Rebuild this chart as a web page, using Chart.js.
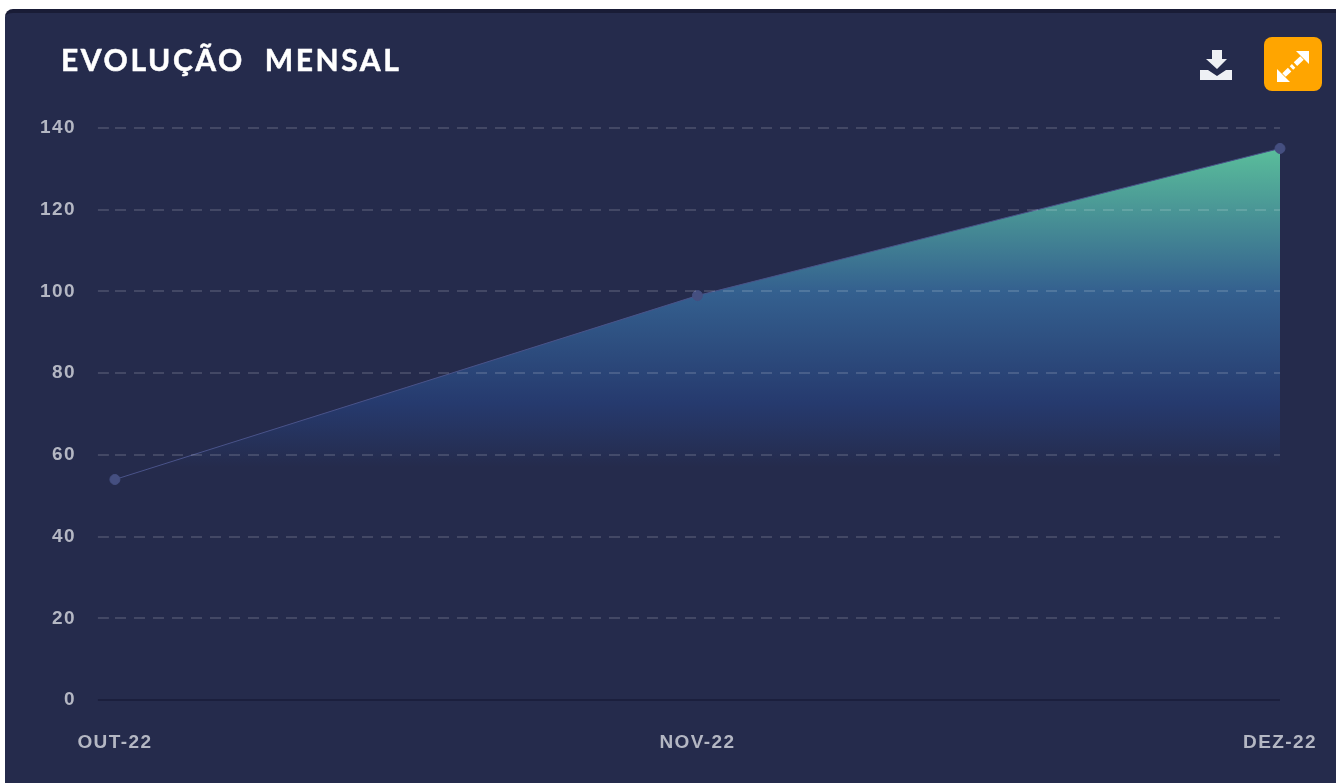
<!DOCTYPE html>
<html lang="pt-BR">
<head>
<meta charset="utf-8">
<title>Evolução Mensal</title>
<script src="https://cdn.jsdelivr.net/npm/chart.js@4/dist/chart.umd.min.js"></script>
<style>
    html, body { margin: 0; padding: 0; background: #fff; overflow: hidden; }
    #card {
        position: absolute; left: 5px; top: 9px; width: 1331px; height: 774px;
        background: #252b4c; border-top: 4px solid #191c36; border-top-left-radius: 8px;
        box-sizing: border-box;
    }
    #titulo {
        position: absolute; left: 56px; top: 28px; margin: 0;
        color: #fff; font: 700 30px Lato, sans-serif; letter-spacing: 2.6px; white-space: pre;
        -webkit-text-stroke: 0.5px #fff;
    }
    #baixar { position: absolute; left: 1193px; top: 34px; }
    #expandir {
        position: absolute; left: 1259px; top: 24px; width: 58px; height: 54px;
        background: #ffa500; border-radius: 8px;
    }
    #grafico { position: absolute; left: 0; top: -4px; }
</style>
</head>
<body>
<div id="card">
    <canvas id="grafico" width="1331" height="774"></canvas>
    <h1 id="titulo">EVOLUÇÃO  MENSAL</h1>
    <svg id="baixar" width="36" height="36" viewBox="0 0 36 36">
        <path d="M14 3h10v9h5L19 22 8 12h6z" fill="#eef0f4"/>
        <path d="M2 23h8l9 6 9-6h6v10H2z" fill="#eef0f4"/>
    </svg>
    <svg id="expandir" viewBox="0 0 58 54">
        <path d="M45 14v13L32 14z" fill="#fff"/>
        <path d="M13 45V32l13 13z" fill="#fff"/>
        <path d="M38 21L20 38" stroke="#fff" stroke-width="5" stroke-dasharray="9 2.500 3 2.500 9" fill="none"/>
    </svg>
</div>
<script>
// dados do grafico
const meses = ['OUT-22', 'NOV-22', 'DEZ-22'];
const valores = [54, 99, 135];

const corTexto = '#b4b7c3';
const corGrade = 'rgba(255,255,255,0.14)';
const corZero = '#1b1f3d';

function gradienteArea(context) {
    const area = context.chart.chartArea;
    if (!area) return 'transparent';
    const y = context.chart.scales.y;
    const g = context.chart.ctx.createLinearGradient(0, y.getPixelForValue(135), 0, y.getPixelForValue(57));
    g.addColorStop(0, 'rgba(90,190,155,1)');
    g.addColorStop(0.45, 'rgba(52,96,143,1)');
    g.addColorStop(0.8, 'rgba(38,58,110,1)');
    g.addColorStop(1, 'rgba(37,43,76,1)');
    return g;
}

// o resize do canvas zera o contexto, entao tem que setar aqui
const espacoLetras = {
    id: 'espacoLetras',
    beforeUpdate(chart) { chart.ctx.letterSpacing = '1.4px'; },
    beforeDraw(chart) { chart.ctx.letterSpacing = '1.4px'; }
};

const ctx = document.getElementById('grafico').getContext('2d');

new Chart(ctx, {
    type: 'line',
    data: {
        labels: meses,
        datasets: [{
            data: valores,
            borderColor: '#4a5389',
            borderWidth: 1,
            tension: 0,
            fill: 'origin',
            backgroundColor: gradienteArea,
            pointRadius: 5,
            pointBackgroundColor: '#454f80',
            pointBorderColor: '#454f80',
            clip: false
        }]
    },
    plugins: [espacoLetras],
    options: {
        responsive: false,
        animation: false,
        layout: { padding: { left: 13, right: 56, top: 119, bottom: 6 } },
        plugins: {
            legend: { display: false },
            title: { display: false },
            tooltip: { enabled: false }
        },
        scales: {
            x: {
                afterFit: scale => { scale.paddingRight = 0; },
                grid: { display: false },
                border: { display: false },
                ticks: {
                    color: corTexto,
                    padding: 23,
                    maxRotation: 0,
                    font: { family: 'Liberation Sans', size: 19, weight: 'bold' }
                }
            },
            y: {
                min: 0,
                max: 140,
                grid: {
                    z: 1,
                    color: c => c.tick.value === 0 ? corZero : corGrade,
                    tickColor: c => c.tick.value === 0 ? corZero : corGrade,
                    tickLength: 17,
                    tickBorderDash: c => c.tick.value === 0 ? [] : [11, 8],
                    lineWidth: 2
                },
                border: {
                    display: false,
                    dash: c => c.tick.value === 0 ? [] : [11, 8]
                },
                ticks: {
                    stepSize: 20,
                    color: corTexto,
                    padding: 22,
                    font: { family: 'Liberation Sans', size: 19, weight: 'bold' }
                }
            }
        }
    }
});
</script>
</body>
</html>
